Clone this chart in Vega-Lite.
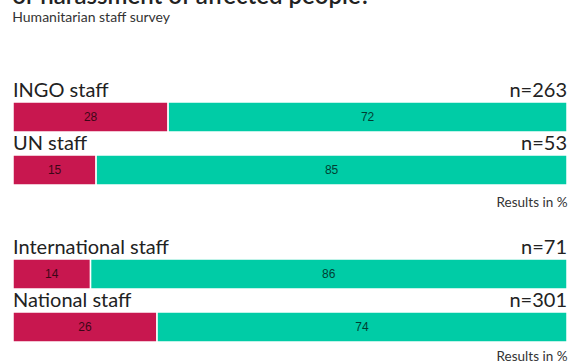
{
  "$schema": "https://vega.github.io/schema/vega-lite/v6.json",
  "padding": {"left": 12, "top": -15, "right": 3, "bottom": 0},
  "title": {
    "text": "or harassment of affected people?",
    "subtitle": "Humanitarian staff survey",
    "anchor": "start",
    "font": "Lato",
    "fontSize": 24,
    "fontWeight": 600,
    "color": "#222222",
    "subtitleFont": "Lato",
    "subtitleFontSize": 14,
    "subtitleColor": "#333333",
    "subtitlePadding": 2,
    "offset": 52
  },
  "datasets": {
    "bars": [
      {"panel": 1, "group": "INGO staff", "response": "Yes", "value": 28},
      {"panel": 1, "group": "INGO staff", "response": "No", "value": 72},
      {"panel": 1, "group": "UN staff", "response": "Yes", "value": 15},
      {"panel": 1, "group": "UN staff", "response": "No", "value": 85},
      {"panel": 2, "group": "International staff", "response": "Yes", "value": 14},
      {"panel": 2, "group": "International staff", "response": "No", "value": 86},
      {"panel": 2, "group": "National staff", "response": "Yes", "value": 26},
      {"panel": 2, "group": "National staff", "response": "No", "value": 74}
    ],
    "labels": [
      {"panel": 1, "group": "INGO staff", "n": "n=263"},
      {"panel": 1, "group": "UN staff", "n": "n=53"},
      {"panel": 2, "group": "International staff", "n": "n=71"},
      {"panel": 2, "group": "National staff", "n": "n=301"}
    ]
  },
  "spacing": 25,
  "vconcat": [
    {
      "width": 554,
      "height": 108,
      "layer": [
        {
          "data": {"name": "bars"},
          "transform": [
            {"filter": "datum.panel == 1"},
            {"stack": "value", "groupby": ["group"], "sort": [{"field": "response", "order": "descending"}], "as": ["x0", "x1"]}
          ],
          "mark": {"type": "bar", "stroke": "white", "strokeWidth": 1.5},
          "encoding": {
            "y": {"field": "group", "type": "nominal", "sort": null, "axis": null, "scale": {"paddingInner": 0.434, "paddingOuter": 0.236, "align": 1}},
            "x": {"field": "x0", "type": "quantitative", "scale": {"domain": [0, 100]}, "axis": {"title": "Results in %", "domain": false, "ticks": false, "labels": false, "grid": false, "titleAnchor": "end", "titleFont": "Lato", "titleFontSize": 13.5, "titleFontWeight": "normal", "titleColor": "#333333", "titlePadding": 10}},
            "x2": {"field": "x1"},
            "color": {"field": "response", "type": "nominal", "scale": {"domain": ["Yes", "No"], "range": ["#C8174F", "#00CCA6"]}, "legend": null}
          }
        },
        {
          "data": {"name": "bars"},
          "transform": [
            {"filter": "datum.panel == 1"},
            {"stack": "value", "groupby": ["group"], "sort": [{"field": "response", "order": "descending"}], "as": ["x0", "x1"]},
            {"calculate": "(datum.x0 + datum.x1) / 2", "as": "mid"}
          ],
          "mark": {"type": "text", "font": "Liberation Sans", "fontSize": 12, "color": "#000000", "opacity": 0.7},
          "encoding": {
            "y": {"field": "group", "type": "nominal", "sort": null},
            "x": {"field": "mid", "type": "quantitative"},
            "text": {"field": "value", "type": "quantitative"}
          }
        },
        {
          "data": {"name": "labels"},
          "transform": [{"filter": "datum.panel == 1"}],
          "mark": {"type": "text", "align": "left", "baseline": "alphabetic", "dy": -5, "font": "Lato", "fontSize": 20, "color": "#222222"},
          "encoding": {
            "y": {"field": "group", "type": "nominal", "sort": null, "bandPosition": 0},
            "x": {"datum": 0},
            "text": {"field": "group"}
          }
        },
        {
          "data": {"name": "labels"},
          "transform": [{"filter": "datum.panel == 1"}],
          "mark": {"type": "text", "align": "right", "baseline": "alphabetic", "dy": -5, "font": "Lato", "fontSize": 20, "color": "#222222"},
          "encoding": {
            "y": {"field": "group", "type": "nominal", "sort": null, "bandPosition": 0},
            "x": {"datum": 100},
            "text": {"field": "n"}
          }
        }
      ]
    },
    {
      "width": 554,
      "height": 108,
      "layer": [
        {
          "data": {"name": "bars"},
          "transform": [
            {"filter": "datum.panel == 2"},
            {"stack": "value", "groupby": ["group"], "sort": [{"field": "response", "order": "descending"}], "as": ["x0", "x1"]}
          ],
          "mark": {"type": "bar", "stroke": "white", "strokeWidth": 1.5},
          "encoding": {
            "y": {"field": "group", "type": "nominal", "sort": null, "axis": null, "scale": {"paddingInner": 0.434, "paddingOuter": 0.236, "align": 1}},
            "x": {"field": "x0", "type": "quantitative", "scale": {"domain": [0, 100]}, "axis": {"title": "Results in %", "domain": false, "ticks": false, "labels": false, "grid": false, "titleAnchor": "end", "titleFont": "Lato", "titleFontSize": 13.5, "titleFontWeight": "normal", "titleColor": "#333333", "titlePadding": 7}},
            "x2": {"field": "x1"},
            "color": {"field": "response", "type": "nominal", "scale": {"domain": ["Yes", "No"], "range": ["#C8174F", "#00CCA6"]}, "legend": null}
          }
        },
        {
          "data": {"name": "bars"},
          "transform": [
            {"filter": "datum.panel == 2"},
            {"stack": "value", "groupby": ["group"], "sort": [{"field": "response", "order": "descending"}], "as": ["x0", "x1"]},
            {"calculate": "(datum.x0 + datum.x1) / 2", "as": "mid"}
          ],
          "mark": {"type": "text", "font": "Liberation Sans", "fontSize": 12, "color": "#000000", "opacity": 0.7},
          "encoding": {
            "y": {"field": "group", "type": "nominal", "sort": null},
            "x": {"field": "mid", "type": "quantitative"},
            "text": {"field": "value", "type": "quantitative"}
          }
        },
        {
          "data": {"name": "labels"},
          "transform": [{"filter": "datum.panel == 2"}],
          "mark": {"type": "text", "align": "left", "baseline": "alphabetic", "dy": -5, "font": "Lato", "fontSize": 20, "color": "#222222"},
          "encoding": {
            "y": {"field": "group", "type": "nominal", "sort": null, "bandPosition": 0},
            "x": {"datum": 0},
            "text": {"field": "group"}
          }
        },
        {
          "data": {"name": "labels"},
          "transform": [{"filter": "datum.panel == 2"}],
          "mark": {"type": "text", "align": "right", "baseline": "alphabetic", "dy": -5, "font": "Lato", "fontSize": 20, "color": "#222222"},
          "encoding": {
            "y": {"field": "group", "type": "nominal", "sort": null, "bandPosition": 0},
            "x": {"datum": 100},
            "text": {"field": "n"}
          }
        }
      ]
    }
  ],
  "config": {"view": {"stroke": null}, "font": "Lato"}
}
